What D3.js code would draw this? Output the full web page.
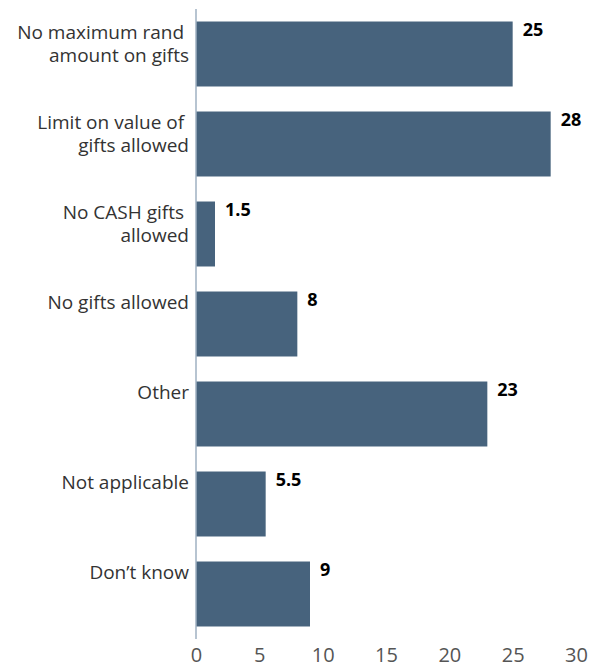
<!DOCTYPE html>
<html><head><meta charset="utf-8">
<script src="https://cdn.jsdelivr.net/npm/d3@7"></script>
<style>
html,body{margin:0;padding:0;background:#fff;}
svg{display:block;}
text{font-family:"Open Sans",sans-serif;}
</style></head>
<body>
<svg id="chart" width="590" height="665"></svg>
<script>
const categories = [
  ["No maximum rand ", "amount on gifts"],
  ["Limit on value of ", "gifts allowed"],
  ["No CASH gifts ", "allowed"],
  ["No gifts allowed"],
  ["Other"],
  ["Not applicable"],
  ["Don\u2019t know"]
];
const values = [25, 28, 1.5, 8, 23, 5.5, 9];
const valueLabels = ["25", "28", "1.5", "8", "23", "5.5", "9"];
const tickValues = [0, 5, 10, 15, 20, 25, 30];

const svg = d3.select("#chart");
const x = d3.scaleLinear().domain([0, 30]).range([196, 576]);
const y = d3.scaleBand().domain(d3.range(categories.length)).range([9, 639])
  .paddingInner(0.278).paddingOuter(0.139);

svg.selectAll("rect.bar").data(values).join("rect")
  .attr("class", "bar")
  .attr("x", x(0))
  .attr("y", (d, i) => y(i))
  .attr("width", d => x(d) - x(0))
  .attr("height", y.bandwidth())
  .attr("fill", "#47637d");

// axis line
svg.append("line")
  .attr("x1", x(0)).attr("x2", x(0))
  .attr("y1", 9).attr("y2", 639)
  .attr("stroke", "#9fb0c2").attr("stroke-width", 1.5);

// category labels
const lab = svg.selectAll("text.cat").data(categories).join("text")
  .attr("class", "cat")
  .attr("text-anchor", "end")
  .attr("fill", "#333")
  .style("font-size", "19px")
  .style("white-space", "pre");
lab.each(function(lines, i) {
  const t = d3.select(this);
  lines.forEach((ln, j) => {
    t.append("tspan")
      .attr("x", x(0) - 7)
      .attr("y", y(i) + 17.5 + j * 22.8)
      .text(ln);
  });
});

// value labels
svg.selectAll("text.val").data(values).join("text")
  .attr("class", "val")
  .attr("x", d => x(d) + 10)
  .attr("y", (d, i) => y(i) + 14.7)
  .attr("fill", "#000")
  .style("font-size", "18px")
  .style("font-weight", "700")
  .text((d, i) => valueLabels[i]);

// x axis tick labels
const axis = d3.axisBottom(x).tickValues(tickValues).tickSize(0).tickPadding(0);
const g = svg.append("g").attr("transform", "translate(0,647)").call(axis);
g.select(".domain").remove();
g.selectAll("text")
  .attr("dy", null)
  .attr("y", 15)
  .attr("fill", "#555")
  .style("font-size", "20px")
  .style("font-family", "'Open Sans',sans-serif");
</script>
</body></html>
